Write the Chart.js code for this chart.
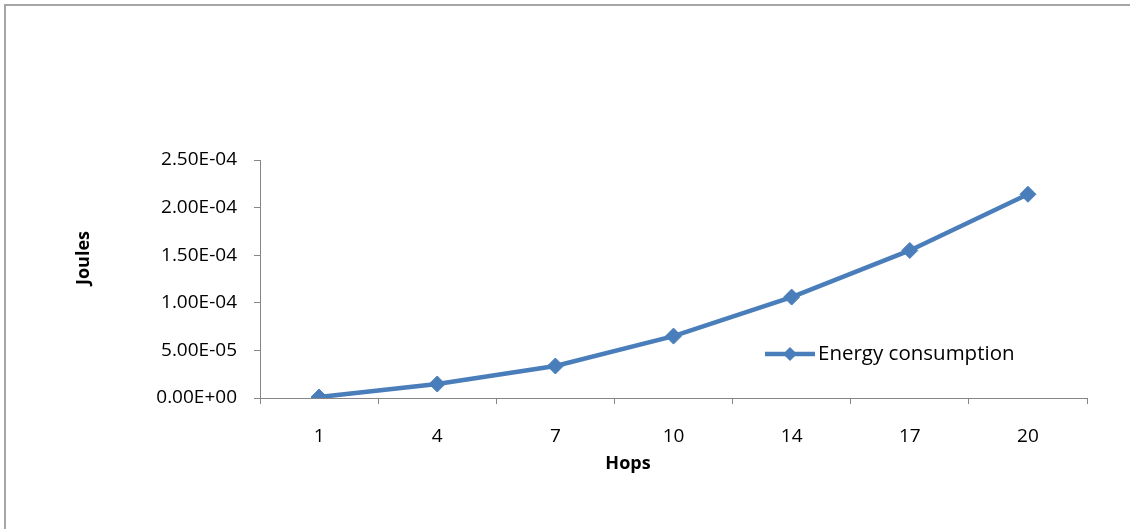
<!DOCTYPE html>
<html>
<head>
<meta charset="utf-8">
<script src="https://cdn.jsdelivr.net/npm/chart.js@4"></script>
<style>
  html, body { margin: 0; padding: 0; background: #fff; }
  #wrap { position: relative; width: 1130px; height: 529px; overflow: hidden; }
  #frame { position: absolute; left: 4px; top: 4px; width: 1200px; height: 600px;
           border-left: 2px solid #a6a6a6; border-top: 2px solid #a6a6a6; }
  #grafico { position: absolute; left: 0; top: 0; }
  .titulo { position: absolute; font-family: "Open Sans", sans-serif; font-weight: bold;
            font-size: 18px; color: #000; white-space: nowrap; }
  #tituloY { left: 82px; top: 258px; transform: translate(-50%, -50%) rotate(-90deg); }
  #tituloX { left: 628px; top: 462px; transform: translate(-50%, -50%); }
</style>
</head>
<body>
<div id="wrap">
  <div id="frame"></div>
  <canvas id="grafico" width="1130" height="529"></canvas>
  <div class="titulo" id="tituloY">Joules</div>
  <div class="titulo" id="tituloX">Hops</div>
</div>
<script>
const hops = ['1', '4', '7', '10', '14', '17', '20'];
const energia = [1.0e-6, 1.47e-5, 3.36e-5, 6.5e-5, 1.06e-4, 1.55e-4, 2.14e-4];
const serieNome = 'Energy consumption';
const yMin = 0;
const yMax = 2.5e-4;
const yPasso = 5e-5;

const azul = '#4a7ebb';
const cinza = '#868686';
const fonte = '"Open Sans", sans-serif';

// formato tipo Excel: 2.50E-04
function formatoExp(v) {
    const [m, e] = Number(v).toExponential(2).split('e');
    const n = parseInt(e, 10);
    const sinal = n < 0 ? '-' : '+';
    return m + 'E' + sinal + String(Math.abs(n)).padStart(2, '0');
}

// legenda dentro da área do gráfico
const legendaInterna = {
    id: 'legendaInterna',
    afterDraw(chart) {
        const ctx = chart.ctx;
        const ds = chart.data.datasets[0];
        const x0 = 765, y = 354;
        ctx.save();
        ctx.strokeStyle = ds.borderColor;
        ctx.lineWidth = ds.borderWidth;
        ctx.beginPath();
        ctx.moveTo(x0, y);
        ctx.lineTo(x0 + 50, y);
        ctx.stroke();
        ctx.fillStyle = ds.pointBackgroundColor;
        ctx.beginPath();
        ctx.moveTo(x0 + 25, y - 7);
        ctx.lineTo(x0 + 32, y);
        ctx.lineTo(x0 + 25, y + 7);
        ctx.lineTo(x0 + 18, y);
        ctx.closePath();
        ctx.fill();
        ctx.fillStyle = '#000';
        ctx.font = '20.5px ' + fonte;
        ctx.textBaseline = 'middle';
        ctx.fillText(ds.label, x0 + 53, y);
        ctx.restore();
    }
};

const chart = new Chart(document.getElementById('grafico'), {
    type: 'line',
    data: {
        labels: hops,
        datasets: [{
            label: serieNome,
            data: energia,
            borderColor: azul,
            backgroundColor: azul,
            pointBackgroundColor: azul,
            pointBorderColor: azul,
            borderWidth: 4.5,
            pointStyle: 'rectRot',
            pointRadius: 8,
            pointBorderWidth: 1,
            tension: 0
        }]
    },
    options: {
        responsive: false,
        animation: false,
        layout: {
            padding: { left: 0, top: 160, right: 43, bottom: 0 }
        },
        plugins: {
            legend: { display: false },
            tooltip: { enabled: false }
        },
        scales: {
            x: {
                offset: true,
                afterFit(scale) { scale.height = 131; },
                grid: {
                    offset: true,
                    drawOnChartArea: false,
                    drawTicks: true,
                    tickLength: 6,
                    color: cinza,
                    lineWidth: 1
                },
                border: { color: cinza, width: 1 },
                ticks: {
                    color: '#000',
                    padding: 21,
                    maxRotation: 0,
                    font: { family: fonte, size: 19 }
                }
            },
            y: {
                min: yMin,
                max: yMax,
                afterFit(scale) { scale.width = 260; },
                grid: {
                    drawOnChartArea: false,
                    drawTicks: true,
                    tickLength: 6,
                    color: cinza,
                    lineWidth: 1
                },
                border: { color: cinza, width: 1 },
                ticks: {
                    stepSize: yPasso,
                    color: '#000',
                    padding: 17,
                    font: { family: fonte, size: 19 },
                    callback: v => formatoExp(v)
                }
            }
        }
    },
    plugins: [legendaInterna]
});
</script>
</body>
</html>
